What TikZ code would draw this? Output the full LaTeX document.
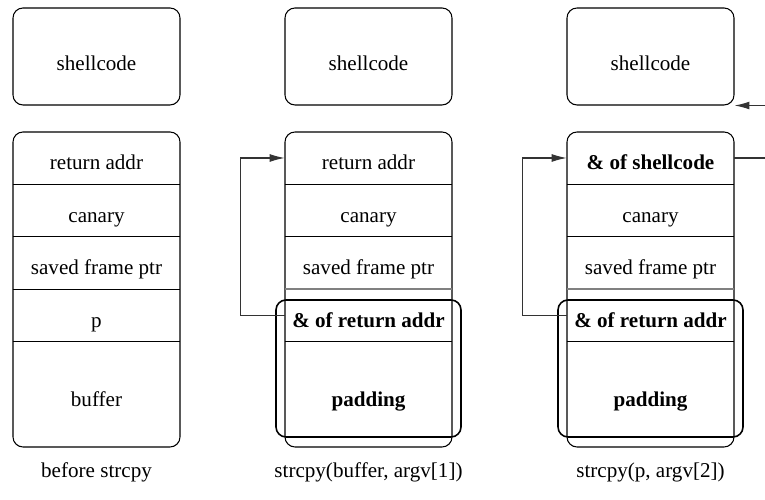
\documentclass[tikz,border=0pt]{standalone}
\usepackage{fontspec}
\setmainfont{Liberation Serif}
\usepackage{tikz}
\usetikzlibrary{arrows.meta,positioning}
\tikzstyle{shell}=[rectangle, draw, rounded corners=0.2cm, minimum width=3.34cm, minimum height=1.94cm, font=\fontsize{12}{14}\selectfont, text height=16.4pt, text depth=0pt, line width=0.6pt]
\tikzstyle{frame}=[rectangle, draw, rounded corners=0.2cm, minimum width=3.34cm, minimum height=6.30cm, line width=0.6pt]
\tikzstyle{cell}=[rectangle, inner sep=0pt, minimum width=3.34cm, minimum height=1.04cm, font=\fontsize{12}{14}\selectfont, text height=13.4pt, text depth=0pt]
\tikzstyle{bigcell}=[cell, minimum height=2.10cm]
\tikzstyle{over}=[rectangle, draw, rounded corners=0.2cm, minimum width=3.70cm, minimum height=2.74cm, line width=0.9pt]
\tikzstyle{sep}=[line width=0.6pt]
\tikzstyle{oldsep}=[line width=1.1pt, black!50]
\tikzstyle{link}=[line width=0.6pt, black!80, -{Latex[length=8.5pt,width=4.5pt]}]
\tikzstyle{caption}=[font=\fontsize{12}{14}\selectfont]

\begin{document}
\begin{tikzpicture}
\useasboundingbox (0,0) rectangle (15.3,10);
%Shellcode
\node[shell](sh1) at (1.93,8.87){shellcode};
\node[shell](sh2) at (7.37,8.87){shellcode};
\node[shell](sh3) at (13.01,8.87){shellcode};
%Frames
\node[frame](fr1) at (1.93,4.21){};
\node[frame](fr2) at (7.37,4.21){};
\node[frame](fr3) at (13.01,4.21){};
%Column One
\node[cell] (ra1) at (1.93,6.84){return addr};
\node[cell] (ca1) at (1.93,5.79){canary};
\node[cell] (sf1) at (1.93,4.74){saved frame ptr};
\node[cell] (p1) at (1.93,3.69){p};
\node[bigcell] (bf1) at (1.93,2.11){buffer};
\draw[sep] (ra1.south west) -- (ra1.south east);
\draw[sep] (ca1.south west) -- (ca1.south east);
\draw[sep] (sf1.south west) -- (sf1.south east);
\draw[sep] (p1.south west) -- (p1.south east);
%Column Two
\node[cell] (ra2) at (7.37,6.84){return addr};
\node[cell] (ca2) at (7.37,5.79){canary};
\node[cell] (sf2) at (7.37,4.74){saved frame ptr};
\node[cell] (ar2) at (7.37,3.69){\textbf{\& of return addr}};
\node[bigcell] (pd2) at (7.37,2.11){\textbf{padding}};
\draw[sep] (ra2.south west) -- (ra2.south east);
\draw[sep] (ca2.south west) -- (ca2.south east);
\draw[oldsep] (sf2.south west) -- (sf2.south east);
\draw[sep] (ar2.south west) -- (ar2.south east);
\node[over] (ov2) at (7.37,2.63){};
\draw[link] (ar2.west) -- ++(-0.88,0) |- (ra2.west);
%Column Three
\node[cell] (ra3) at (13.01,6.84){\textbf{\& of shellcode}};
\node[cell] (ca3) at (13.01,5.79){canary};
\node[cell] (sf3) at (13.01,4.74){saved frame ptr};
\node[cell] (ar3) at (13.01,3.69){\textbf{\& of return addr}};
\node[bigcell] (pd3) at (13.01,2.11){\textbf{padding}};
\draw[sep] (ra3.south west) -- (ra3.south east);
\draw[sep] (ca3.south west) -- (ca3.south east);
\draw[oldsep] (sf3.south west) -- (sf3.south east);
\draw[sep] (ar3.south west) -- (ar3.south east);
\node[over] (ov3) at (13.01,2.63){};
\draw[link] (ar3.west) -- ++(-0.88,0) |- (ra3.west);
\draw[link] (ra3.east) -- ++(0.8,0) |- (sh3.south east);
%Captions
\node[caption] (c1) at (1.93,0.56){before strcpy};
\node[caption] (c2) at (7.37,0.56){strcpy(buffer, argv[1])};
\node[caption] (c3) at (13.01,0.56){strcpy(p, argv[2])};
\end{tikzpicture}
\end{document}
